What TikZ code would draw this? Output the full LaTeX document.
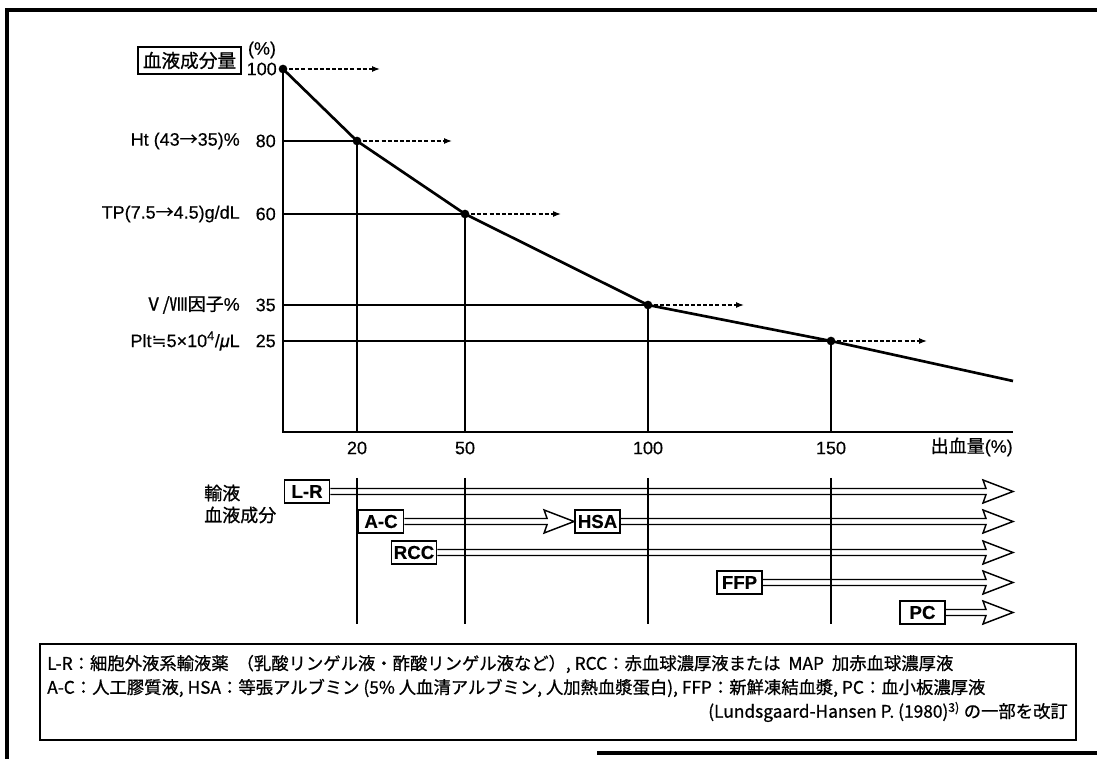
\documentclass[tikz,border=0pt]{standalone}
\usepackage{fontspec}
\setmainfont{Liberation Sans}[FakeBold=0.4]
\newfontfamily\jp{Noto Sans CJK JP}[FakeBold=0.8]
\newfontfamily\sym{DejaVu Sans}
\usetikzlibrary{arrows.meta,calc}
\newcommand\harrow[2]{\draw[hollow] ($(#1)+(0,-3)$) -- ($(#2)+(-27,-3)$) -- ($(#2)+(-30,-11.5)$) -- (#2) -- ($(#2)+(-30,11.5)$) -- ($(#2)+(-27,3)$) -- ($(#1)+(0,3)$);}
\begin{document}
\begin{tikzpicture}[x=0.75pt,y=-0.75pt,
  lab/.style={font=\fontsize{13.5}{16}\selectfont, inner sep=0pt},
  leg/.style={font=\jp\fontsize{13}{15}\selectfont, inner sep=0pt},
  frame/.style={line width=2.8pt},
  curve/.style={line width=2pt, line join=round},
  grid/.style={line width=1pt},
  dasharrow/.style={line width=0.9pt, dash pattern=on 3pt off 1.6pt, -{Latex[length=6pt,width=4.5pt]}},
  dot/.style={circle, fill, inner sep=0pt, minimum size=6.5pt},
  tbox/.style={draw, fill=white, line width=1.1pt, inner sep=0pt, minimum width=34pt, minimum height=17pt, font=\fontsize{14}{16}\selectfont\bfseries},
  hollow/.style={line width=1.1pt, line join=miter},
]
\useasboundingbox (0,0) rectangle (1097,759);
% outer frame
\draw[frame] (7,759) -- (7,10) -- (1097,10);
\draw[frame] (597,753) -- (1097,753);
% axes
\coordinate (o) at (283,432);
\coordinate (xe) at (1013,432);
\coordinate (ytop) at (283,69);
\draw[grid] (ytop) -- (o) -- (xe);
% points
\node[dot] (d100) at (283,69) {};
\node[dot] (d80) at (357,141) {};
\node[dot] (d60) at (465,214) {};
\node[dot] (d35) at (648,305) {};
\node[dot] (d25) at (831,341) {};
\coordinate (dend) at (1013,381);
% horizontal and vertical guides
\draw[grid] (d80.center -| o) -- (d80.center) -- (d80.center |- o);
\draw[grid] (d60.center -| o) -- (d60.center) -- (d60.center |- o);
\draw[grid] (d35.center -| o) -- (d35.center) -- (d35.center |- o);
\draw[grid] (d25.center -| o) -- (d25.center) -- (d25.center |- o);
% curve
\draw[curve] (d100.center) -- (d80.center) -- (d60.center) -- (d35.center) -- (d25.center) -- (dend);
% dashed arrows
\coordinate (a100) at (380,69);
\coordinate (a80) at (452,141);
\coordinate (a60) at (561,214);
\coordinate (a35) at (744,305);
\coordinate (a25) at (927,341);
\draw[dasharrow] (d100.center) -- (a100);
\draw[dasharrow] (d80.center) -- (a80);
\draw[dasharrow] (d60.center) -- (a60);
\draw[dasharrow] (d35.center) -- (a35);
\draw[dasharrow] (d25.center) -- (a25);
% y labels
\node[draw, line width=1.1pt, inner sep=0pt, minimum width=77pt, minimum height=20pt, font=\jp\fontsize{14}{16}\selectfont] (title) at (189.5,60.5) {血液成分量};
\node[lab] (pct) at (262,50) {(\%)};
\node[lab, anchor=east] (n100) at (277,69) {100};
\node[lab, anchor=east] (n80) at (276,141) {80};
\node[lab, anchor=east] (n60) at (276,214) {60};
\node[lab, anchor=east] (n35) at (276,305) {35};
\node[lab, anchor=east] (n25) at (276,341) {25};
\node[lab, anchor=east] (lht) at (240,141) {Ht (43{\jp →}35)\%};
\node[lab, anchor=east] (ltp) at (240,214) {TP(7.5{\jp →}4.5)g/dL};
\node[lab, anchor=east] (lf) at (240,305) {{\jp Ⅴ/Ⅷ因子}\%};
\node[lab, anchor=east] (lplt) at (240,341) {Plt{\sym ≒}5×10\textsuperscript{4}/\textit{μ}L};
% x labels
\node[lab] (x20) at (357,448) {20};
\node[lab] (x50) at (465,448) {50};
\node[lab] (x100) at (648,448) {100};
\node[lab] (x150) at (831,448) {150};
\node[lab, anchor=east] (xl) at (1013,447) {{\jp 出血量}(\%)};
% lower vertical lines
\draw[grid] (357,478) coordinate (v20t) -- (357,624) coordinate (v20b);
\draw[grid] (465,478) coordinate (v50t) -- (465,624) coordinate (v50b);
\draw[grid] (648,478) coordinate (v100t) -- (648,624) coordinate (v100b);
\draw[grid] (831,478) coordinate (v150t) -- (831,624) coordinate (v150b);
% side labels
\node[lab, anchor=west, font=\jp\fontsize{13.5}{16}\selectfont] (yu) at (204,493) {輸液};
\node[lab, anchor=west, font=\jp\fontsize{13.5}{16}\selectfont] (ke) at (204,515) {血液成分};
% boxes
\node[tbox] (lr) at (307,491.5) {L-R};
\node[tbox] (ac) at (381,521.5) {A-C};
\node[tbox] (hsa) at (597.5,521.5) {HSA};
\node[tbox] (rcc) at (414,552.5) {RCC};
\node[tbox] (ffp) at (739.5,582.5) {FFP};
\node[tbox] (pc) at (922.5,612.5) {PC};
\coordinate (elr) at (1013,491.5);
\coordinate (ehsa) at (1013,521.5);
\coordinate (ercc) at (1013,552.5);
\coordinate (effp) at (1013,582.5);
\coordinate (epc) at (1013,612.5);
\harrow{lr.east}{elr}
\harrow{ac.east}{hsa.west}
\harrow{hsa.east}{ehsa}
\harrow{rcc.east}{ercc}
\harrow{ffp.east}{effp}
\harrow{pc.east}{epc}
% legend
\draw[line width=1pt] (40,644) rectangle (1076,740);
\node[leg, anchor=west] (l1) at (47,664) {L-R：細胞外液系輸液薬\hspace{6pt}（乳酸リンゲル液・酢酸リンゲル液など）, RCC：赤血球濃厚液または\hspace{3pt} MAP\hspace{3pt} 加赤血球濃厚液};
\node[leg, anchor=west] (l2) at (47,688) {A-C：人工膠質液, HSA：等張アルブミン (5\% 人血清アルブミン, 人加熱血漿蛋白), FFP：新鮮凍結血漿, PC：血小板濃厚液};
\node[leg, anchor=east] (l3) at (1068,712) {(Lundsgaard-Hansen P. (1980)\textsuperscript{3)} の一部を改訂};
\end{tikzpicture}
\end{document}
